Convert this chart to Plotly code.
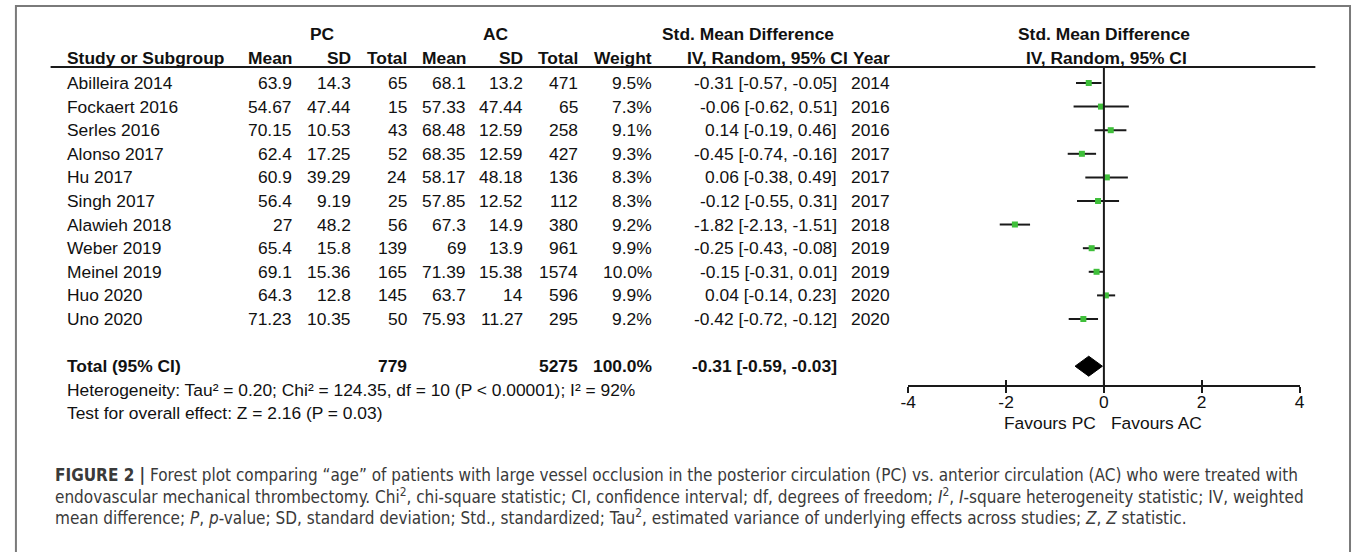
import plotly.graph_objects as go

# ---- study data -------------------------------------------------------------
studies = ["Abilleira 2014", "Fockaert 2016", "Serles 2016", "Alonso 2017", "Hu 2017",
           "Singh 2017", "Alawieh 2018", "Weber 2019", "Meinel 2019", "Huo 2020", "Uno 2020"]
pc_mean = [63.9, 54.67, 70.15, 62.4, 60.9, 56.4, 27, 65.4, 69.1, 64.3, 71.23]
pc_sd = [14.3, 47.44, 10.53, 17.25, 39.29, 9.19, 48.2, 15.8, 15.36, 12.8, 10.35]
pc_n = [65, 15, 43, 52, 24, 25, 56, 139, 165, 145, 50]
ac_mean = [68.1, 57.33, 68.48, 68.35, 58.17, 57.85, 67.3, 69, 71.39, 63.7, 75.93]
ac_sd = [13.2, 47.44, 12.59, 12.59, 48.18, 12.52, 14.9, 13.9, 15.38, 14, 11.27]
ac_n = [471, 65, 258, 427, 136, 112, 380, 961, 1574, 596, 295]
weight = [9.5, 7.3, 9.1, 9.3, 8.3, 8.3, 9.2, 9.9, 10.0, 9.9, 9.2]
smd = [-0.31, -0.06, 0.14, -0.45, 0.06, -0.12, -1.82, -0.25, -0.15, 0.04, -0.42]
ci_lo = [-0.57, -0.62, -0.19, -0.74, -0.38, -0.55, -2.13, -0.43, -0.31, -0.14, -0.72]
ci_hi = [-0.05, 0.51, 0.46, -0.16, 0.49, 0.31, -1.51, -0.08, 0.01, 0.23, -0.12]
years = [2014, 2016, 2016, 2017, 2017, 2017, 2018, 2019, 2019, 2020, 2020]

# pooled result
total_pc_n = 779
total_ac_n = 5275
total_weight = 100.0
pooled_smd = -0.31
pooled_lo = -0.59
pooled_hi = -0.03

x_ticks = [-4, -2, 0, 2, 4]

heterogeneity = "Heterogeneity: Tau² = 0.20; Chi² = 124.35, df = 10 (P < 0.00001); I² = 92%"
overall_test = "Test for overall effect: Z = 2.16 (P = 0.03)"

caption_lines = [
    "<b>FIGURE 2 |</b> Forest plot comparing “age” of patients with large vessel occlusion in the "
    "posterior circulation (PC) vs. anterior circulation (AC) who were treated with",
    "endovascular mechanical thrombectomy. Chi<sup>2</sup>, chi-square statistic; CI, confidence "
    "interval; df, degrees of freedom; <i>I</i><sup>2</sup>, <i>I</i>-square heterogeneity statistic; "
    "IV, weighted",
    "mean difference; <i>P</i>, <i>p</i>-value; SD, standard deviation; Std., standardized; "
    "Tau<sup>2</sup>, estimated variance of underlying effects across studies; <i>Z</i>, <i>Z</i> statistic.",
]

# ---- geometry (pixels) --------------------------------------------------------
W, H = 1357, 552
ROW0, ROW_H = 83.0, 23.6          # first study row centre, row pitch
PLOT_TOP, AXIS_Y = 67.0, 386.0    # header rule / x-axis line
X_LEFT, X_RIGHT = 909.0, 1304.0   # x = -4 .. 4

TEXT_FONT = "Liberation Sans, Arial, sans-serif"
CAP_FONT = "DejaVu Sans Condensed, Liberation Sans Narrow, sans-serif"
FS = 17.4
INK = "#111111"


def px(x):
    return x / W


def py(y):
    return 1 - y / H


def row_of(y):
    return (y - ROW0) / ROW_H


def fmt(v):
    return f"{v:g}"


n = len(studies)
rows = list(range(n))
total_row = n + 1
het_row = total_row + 1
test_row = total_row + 2
hdr1_row = row_of(34)
hdr2_row = row_of(58)

fig = go.Figure()

# confidence-interval whiskers
wx, wy = [], []
for r, lo, hi in zip(rows, ci_lo, ci_hi):
    wx += [lo, hi, None]
    wy += [r, r, None]
fig.add_trace(go.Scatter(x=wx, y=wy, mode="lines", line=dict(color="#1a1a1a", width=2),
                         hoverinfo="skip", showlegend=False))

# point estimates
fig.add_trace(go.Scatter(x=smd, y=rows, mode="markers",
                         marker=dict(symbol="square", size=6, color="#3fbf3a", line=dict(width=0)),
                         showlegend=False))

# pooled diamond
dh = 10.0 / ROW_H
fig.add_trace(go.Scatter(
    x=[pooled_lo, pooled_smd, pooled_hi, pooled_smd, pooled_lo],
    y=[total_row, total_row - dh, total_row, total_row + dh, total_row],
    mode="lines", fill="toself", fillcolor="black", line=dict(color="black", width=1),
    hoverinfo="skip", showlegend=False))

# invisible trace so the overlaid tick axis is drawn
fig.add_trace(go.Scatter(x=[0], y=[0], xaxis="x2", mode="markers",
                         marker=dict(opacity=0), hoverinfo="skip", showlegend=False))

ann = []


def cell(text, x_px, row, anchor="right", bold=False, size=FS, color=INK):
    ann.append(dict(text=f"<b>{text}</b>" if bold else text, x=px(x_px), xref="paper",
                    y=row, yref="y", xanchor=anchor, yanchor="middle", showarrow=False,
                    font=dict(family=TEXT_FONT, size=size, color=color)))


# column headers
cell("PC", 318, hdr1_row, "center", True)
cell("AC", 493, hdr1_row, "center", True)
cell("Std. Mean Difference", 747, hdr1_row, "center", True)
cell("Std. Mean Difference", 1107, hdr1_row, "center", True)
cell("Study or Subgroup", 58, hdr2_row, "left", True)
cell("Mean", 289, hdr2_row, bold=True)
cell("SD", 348, hdr2_row, bold=True)
cell("Total", 405, hdr2_row, bold=True)
cell("Mean", 464, hdr2_row, bold=True)
cell("SD", 522, hdr2_row, bold=True)
cell("Total", 578, hdr2_row, bold=True)
cell("Weight", 652, hdr2_row, bold=True)
cell("IV, Random, 95% CI", 850, hdr2_row, bold=True)
cell("Year", 893, hdr2_row, bold=True)
cell("IV, Random, 95% CI", 1109, hdr2_row, "center", True)

# study rows
for i in rows:
    cell(studies[i], 58, i, "left")
    cell(fmt(pc_mean[i]), 289, i)
    cell(fmt(pc_sd[i]), 348, i)
    cell(str(pc_n[i]), 405, i)
    cell(fmt(ac_mean[i]), 464, i)
    cell(fmt(ac_sd[i]), 522, i)
    cell(str(ac_n[i]), 578, i)
    cell(f"{weight[i]:.1f}%", 652, i)
    cell(f"{smd[i]:.2f} [{ci_lo[i]:.2f}, {ci_hi[i]:.2f}]", 839, i)
    cell(str(years[i]), 893, i)

# totals and summary statistics
cell("Total (95% CI)", 58, total_row, "left", True)
cell(str(total_pc_n), 405, total_row, bold=True)
cell(str(total_ac_n), 578, total_row, bold=True)
cell(f"{total_weight:.1f}%", 652, total_row, bold=True)
cell(f"{pooled_smd:.2f} [{pooled_lo:.2f}, {pooled_hi:.2f}]", 839, total_row, bold=True)
cell(heterogeneity, 58, het_row, "left")
cell(overall_test, 58, test_row, "left")

cell("Favours PC", 1052, row_of(423), "center")
cell("Favours AC", 1160, row_of(423), "center")

# figure caption
for k, line in enumerate(caption_lines):
    ann.append(dict(text=line, x=px(45), xref="paper", y=py(475 + 21 * k), yref="paper",
                    xanchor="left", yanchor="middle", showarrow=False,
                    font=dict(family=CAP_FONT, size=17.0, color="#3a3a3a")))

shapes = [
    # outer frame (open at the bottom)
    dict(type="rect", xref="paper", yref="paper", x0=px(8), x1=px(1355), y0=-0.05, y1=py(6),
         line=dict(color="#7a7a7a", width=2), fillcolor="rgba(0,0,0,0)", layer="below"),
    # header rule
    dict(type="line", xref="paper", yref="paper", x0=px(43), x1=px(1320), y0=py(PLOT_TOP),
         y1=py(PLOT_TOP), line=dict(color="#1a1a1a", width=2)),
    # line of no effect
    dict(type="line", xref="x", yref="paper", x0=0, x1=0, y0=py(AXIS_Y), y1=py(PLOT_TOP),
         line=dict(color="#1a1a1a", width=2)),
]

fig.update_layout(
    width=W, height=H, margin=dict(l=0, r=0, t=0, b=0),
    paper_bgcolor="white", plot_bgcolor="rgba(0,0,0,0)",
    showlegend=False, hovermode=False,
    annotations=ann, shapes=shapes,
    xaxis=dict(domain=[px(X_LEFT), px(X_RIGHT)], range=[-4, 4], tickvals=x_ticks,
               ticktext=[str(t) for t in x_ticks], ticks="inside", ticklen=5, tickwidth=2,
               tickcolor="#1a1a1a", showline=True, linewidth=2, linecolor="#1a1a1a",
               zeroline=False, showgrid=False, anchor="free", position=py(AXIS_Y),
               tickfont=dict(family=TEXT_FONT, size=FS, color=INK), fixedrange=True),
    xaxis2=dict(overlaying="x", matches="x", anchor="free", position=py(AXIS_Y), side="bottom",
                tickvals=x_ticks, ticks="outside", ticklen=6, tickwidth=2, tickcolor="#1a1a1a",
                showticklabels=False, showline=False, zeroline=False, showgrid=False),
    yaxis=dict(domain=[0, 1], range=[row_of(H), row_of(0)], visible=False, fixedrange=True),
)

fig.write_html("out.html")
